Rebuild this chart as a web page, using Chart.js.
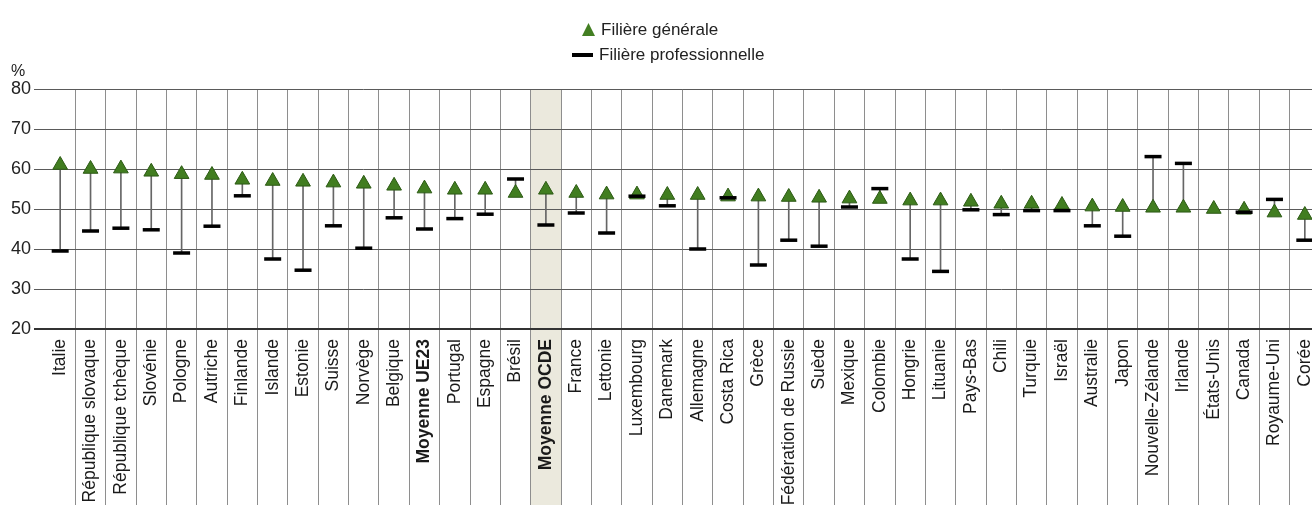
<!DOCTYPE html>
<html lang="fr">
<head>
<meta charset="utf-8">
<script src="https://cdn.jsdelivr.net/npm/chart.js@4"></script>
<style>
  body { margin: 0; overflow: hidden; background: #fff; font-family: "Liberation Sans", Arial, sans-serif; }
  #wrap { position: relative; width: 1312px; height: 505px; overflow: hidden; }
  canvas { position: absolute; left: 0; top: 0; }
  .pct { position: absolute; left: 11px; top: 62px; font-size: 16px; color: #222; }
  .leg { position: absolute; left: 572px; font-size: 17px; color: #222; }
  .leg span { display: inline-block; vertical-align: middle; }
  .tri { width: 13px; height: 13px; background: #437f22; clip-path: polygon(50% 0, 100% 100%, 0 100%); margin: 0 6px 0 10px; }
  .dash { width: 21px; height: 4px; background: #000; margin-right: 6px; }
</style>
</head>
<body>
<div id="wrap">
  <canvas id="c" width="1320" height="505"></canvas>
  <div class="pct">%</div>
  <div class="leg" style="top:19px"><span class="tri"></span><span>Filière générale</span></div>
  <div class="leg" style="top:44px"><span class="dash"></span><span>Filière professionnelle</span></div>
</div>
<script>
// pays / moyennes, dans l'ordre du graphique
const pays = ['Italie', 'République slovaque', 'République tchèque', 'Slovénie', 'Pologne', 'Autriche',
  'Finlande', 'Islande', 'Estonie', 'Suisse', 'Norvège', 'Belgique', 'Moyenne UE23', 'Portugal',
  'Espagne', 'Brésil', 'Moyenne OCDE', 'France', 'Lettonie', 'Luxembourg', 'Danemark', 'Allemagne',
  'Costa Rica', 'Grèce', 'Fédération de Russie', 'Suède', 'Mexique', 'Colombie', 'Hongrie', 'Lituanie',
  'Pays-Bas', 'Chili', 'Turquie', 'Israël', 'Australie', 'Japon', 'Nouvelle-Zélande', 'Irlande',
  'États-Unis', 'Canada', 'Royaume-Uni', 'Corée'];

// Filière générale (%)
const generale = [61.0, 60.0, 60.1, 59.3, 58.7, 58.5, 57.3, 57.0, 56.8, 56.6, 56.3, 55.8, 55.1, 54.8,
  54.8, 54.0, 54.8, 54.0, 53.6, 53.6, 53.5, 53.5, 53.1, 53.1, 53.0, 52.8, 52.6, 52.5, 52.1, 52.1,
  51.8, 51.3, 51.3, 51.0, 50.6, 50.5, 50.3, 50.3, 50.0, 49.8, 49.1, 48.5];

// Filière professionnelle (%)
const professionnelle = [39.5, 44.5, 45.2, 44.8, 39.0, 45.7, 53.3, 37.5, 34.7, 45.8, 40.2, 47.8, 45.0, 47.6,
  48.7, 57.5, 46.0, 49.0, 44.0, 53.2, 50.8, 40.0, 52.8, 36.0, 42.2, 40.7, 50.5, 55.1, 37.5, 34.4,
  49.8, 48.6, 49.6, 49.6, 45.8, 43.2, 63.1, 61.4, null, 49.2, 52.4, 42.2];

const yTicks = [20, 30, 40, 50, 60, 70, 80];
const enGras = ['Moyenne UE23', 'Moyenne OCDE'];
const surligne = 'Moyenne OCDE';

const ecarts = pays.map((p, i) => professionnelle[i] == null ? null : [professionnelle[i], generale[i]]);

// colonne grisée de la moyenne OCDE
const bande = {
  id: 'bande',
  beforeDraw(chart) {
    const x = chart.scales.x;
    const i = pays.indexOf(surligne);
    const w = x.width / pays.length;
    const ctx = chart.ctx;
    ctx.save();
    ctx.fillStyle = '#ebe9dd';
    ctx.fillRect(x.getPixelForValue(i) - w / 2, chart.chartArea.top, w, chart.height - chart.chartArea.top);
    ctx.restore();
  }
};

new Chart(document.getElementById('c'), {
  type: 'bar',
  data: {
    labels: pays,
    datasets: [
      { type: 'line', label: 'Filière professionnelle', data: professionnelle, showLine: false,
        pointStyle: 'line', pointRadius: 8.5, pointBorderWidth: 3.5, borderColor: '#000',
        pointBorderColor: '#000', order: 0 },
      { type: 'line', label: 'Filière générale', data: generale, showLine: false,
        pointStyle: 'triangle', pointRadius: 8.5, pointBackgroundColor: '#417d20',
        pointBorderColor: '#2c5a14', pointBorderWidth: 1, order: 1 },
      { label: 'écart', data: ecarts, barThickness: 1, backgroundColor: '#666', borderWidth: 0, order: 2 }
    ]
  },
  options: {
    responsive: false,
    animation: false,
    layout: { autoPadding: false, padding: { top: 89, right: 0, left: 0, bottom: 0 } },
    plugins: { legend: { display: false }, tooltip: { enabled: false } },
    scales: {
      x: {
        offset: true,
        grid: {
          offset: true,
          color: c => c.index === 0 ? 'rgba(0,0,0,0)' : '#8e8e8e',
          tickColor: c => c.index === 0 ? 'rgba(0,0,0,0)' : '#8e8e8e',
          tickLength: 176,
          lineWidth: 1
        },
        border: { color: '#333', width: 2 },
        ticks: {
          autoSkip: false,
          minRotation: 90,
          maxRotation: 90,
          padding: -166,
          color: '#1a1a1a',
          font: c => ({ family: '"Liberation Sans", Arial, sans-serif', size: 17.5,
            weight: c.tick && enGras.includes(c.tick.label) ? 'bold' : 'normal' })
        },
        afterFit: s => { s.height = 176; s.paddingLeft = 0; s.paddingRight = 0; }
      },
      y: {
        min: 20,
        max: 80,
        afterBuildTicks: s => { s.ticks = yTicks.map(v => ({ value: v })); },
        grid: {
          color: c => c.tick && c.tick.value === 20 ? '#333' : '#5a5a5a',
          lineWidth: c => c.tick && c.tick.value === 20 ? 2 : 1,
          tickLength: 11
        },
        border: { display: false },
        ticks: {
          padding: 3,
          color: '#222',
          font: { family: '"Liberation Sans", Arial, sans-serif', size: 18 }
        },
        afterFit: s => { s.width = 45; s.paddingTop = 0; s.paddingBottom = 0; }
      }
    }
  },
  plugins: [bande]
});
</script>
</body>
</html>
